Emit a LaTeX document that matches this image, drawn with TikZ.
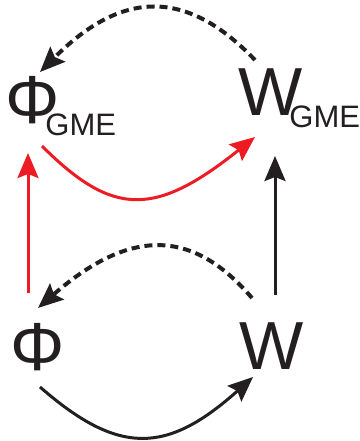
\documentclass[tikz,border=0pt]{standalone}
\usepackage{fontspec}
\setmainfont{Liberation Sans}
\usetikzlibrary{arrows.meta}
\definecolor{ared}{HTML}{ED1C24}
\definecolor{ablack}{HTML}{231F20}
\tikzset{
  lbl/.style={inner sep=0pt, anchor=base west, text=ablack},
  tipstyle/.style={-{Stealth[length=25pt,width=21pt,inset=4pt]}},
  solidarrow/.style={tipstyle, line width=3pt},
  dasharrow/.style={tipstyle, line width=4pt, dash pattern=on 8pt off 5pt, draw=ablack},
}
\newcommand{\bigsym}[1]{{\fontsize{68}{68}\selectfont #1}}
\newcommand{\subsym}[1]{\raisebox{-13pt}{\fontsize{31}{31}\selectfont #1}}
\begin{document}
\begin{tikzpicture}[x=1pt,y=-1pt]
\useasboundingbox (0,0) rectangle (359,441);
\node[lbl] (pg) at (5,123) {\bigsym{Φ}\kern-14pt\subsym{GME}};
\node[lbl] (wg) at (238,115) {\bigsym{W}\kern-13pt\subsym{GME}};
\node[lbl] (pl) at (10,370) {\bigsym{Φ}};
\node[lbl] (wl) at (239,369) {\bigsym{W}};
% top dashed
\draw[dasharrow] ([shift={(17,-55)}]wg.base west) .. controls (187,-11) and (123,-11) .. ([shift={(35,-51)}]pg.base west);
% red curve
\draw[solidarrow, draw=ared] ([shift={(37,23)}]pg.base west) .. controls (113,217) and (155,217) .. ([shift={(17,22)}]wg.base west);
% red vertical
\draw[solidarrow, draw=ared] ([shift={(18,-77)}]pl.base west) -- ([shift={(23,30)}]pg.base west);
% black vertical
\draw[solidarrow, draw=ablack] ([shift={(36,-74)}]wl.base west) -- ([shift={(37,41)}]wg.base west);
% lower dashed
\draw[dasharrow] ([shift={(13,-71)}]wl.base west) .. controls (192,228) and (130,228) .. ([shift={(28,-62)}]pl.base west);
% bottom black curve
\draw[solidarrow, draw=ablack] ([shift={(30,17)}]pl.base west) .. controls (118,455) and (166,455) .. ([shift={(14,8)}]wl.base west);
\end{tikzpicture}
\end{document}
